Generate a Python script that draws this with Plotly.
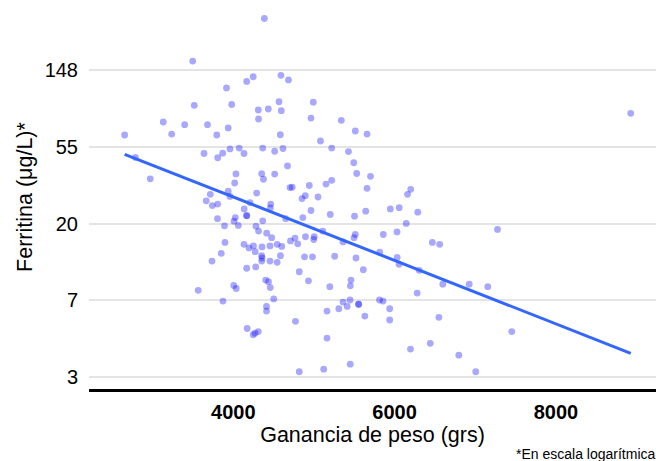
import numpy as np
import plotly.graph_objects as go

# Weight gain (grams) and ferritin (ug/L)
gain = [
    4385, 3497, 4166, 4247, 4591, 4684, 3916, 3516, 3980, 4310,
    4313, 4434, 4567, 4595, 4992, 4963, 5339, 5513, 5658, 3132,
    3397, 3680, 3937, 3236, 3795, 2653, 4583, 5081, 5220, 4365,
    4513, 4616, 5428, 3959, 4073, 3637, 3807, 3869, 4133, 2787,
    2970, 5494, 4672, 5530, 5701, 4033, 4017, 4352, 4374, 4513,
    3937, 3959, 3715, 3664, 3740, 3807, 4290, 4207, 4703, 4730,
    4942, 5149, 5220, 5658, 6200, 6160, 4893, 4852, 5050, 4464,
    4460, 4135, 4164, 4168, 4025, 4009, 4062, 3804, 3891, 4365,
    4650, 4862, 4963, 5202, 5503, 5642, 5947, 6057, 6287, 6144,
    7276, 4281, 4313, 4414, 4476, 5109, 4895, 5003, 4998, 4765,
    4709, 4799, 5513, 5497, 5360, 5860, 6030, 6468, 6559, 3897,
    4133, 4195, 4250, 4272, 4356, 4352, 4356, 4352, 4455, 4455,
    4544, 4601, 4544, 4585, 4883, 4982, 5257, 5521, 5815, 6032,
    6055, 3851, 3736, 4166, 4278, 4818, 5612, 6305, 3565, 4006,
    4036, 3872, 4402, 4437, 4458, 4502, 4412, 4412, 4932, 5197,
    5459, 5451, 5162, 5308, 5360, 5412, 5447, 5552, 5555, 5813,
    5856, 5939, 5631, 5939, 6280, 6598, 6925, 7155, 6549, 4771,
    4310, 4269, 4172, 4247, 5162, 6197, 6442, 6796, 7453, 5450,
    5121, 4818, 7006, 8928,
]
ferritin = [
    292, 167.5, 128.5, 136.5, 139, 131, 118, 94, 95, 88.4,
    78.6, 89.6, 98.5, 87.6, 98, 79.6, 77.3, 67.2, 64.6, 75.6,
    73, 73, 70, 64.6, 63.8, 63.8, 64, 59, 53.8, 53.8,
    51.6, 53.5, 51.4, 53.2, 53.8, 50.1, 47.4, 50.3, 50.1, 47.6,
    36, 44.4, 42.6, 38.6, 37.2, 38.4, 34.1, 38.5, 35.8, 38.3,
    30.6, 28.6, 29.4, 27, 25.4, 25.9, 29.9, 26.4, 32.1, 32.3,
    33, 33.6, 35.3, 31.8, 31.4, 29.4, 28.9, 27.8, 28.4, 25.9,
    24.6, 24.3, 22.3, 22.2, 21.7, 20.7, 19.6, 21.4, 19.5, 20.8,
    21.4, 21.7, 23.8, 22.6, 22.1, 23.6, 24.3, 24.7, 23.3, 20.1,
    18.6, 19.4, 18.2, 17.7, 16.7, 18.2, 16.9, 16.9, 16.3, 16.6,
    16, 15.4, 17.4, 16.7, 15.8, 17.4, 18, 15.7, 15.3, 15.7,
    15.3, 14.6, 15, 13.9, 14.8, 13.2, 12.8, 12.3, 15, 12.3,
    15.3, 14.9, 12.1, 13.2, 13, 13, 13.1, 12.8, 13.8, 12.9,
    11.8, 13.6, 12.3, 11.2, 11.4, 10.7, 11, 10.9, 8.4, 8.95,
    8.6, 7.3, 9.6, 9.4, 8.7, 7.5, 6.8, 6.4, 9.5, 8.8,
    9.6, 8.9, 6.4, 6.6, 7.2, 6.8, 7.4, 7.0, 7.0, 7.4,
    7.3, 6.6, 6.0, 5.7, 8.1, 9.1, 9.1, 8.8, 5.9, 5.6,
    4.9, 4.8, 5.1, 4.7, 4.5, 3.9, 4.2, 3.6, 4.9, 3.2,
    3.0, 2.9, 2.9, 84.7,
]

# Fitted trend line (log scale)
trend_gain = [2653, 8928]
trend_ferritin = [49.6, 3.69]

x_tickvals = [4000, 6000, 8000]
x_ticktext = ["<b>4000</b>", "<b>6000</b>", "<b>8000</b>"]
y_tickvals = [float(np.e ** k) for k in [1, 2, 3, 4, 5]]
y_ticktext = ["3", "7", "20", "55", "148"]

FONT = "Liberation Sans, Arial, sans-serif"

fig = go.Figure()
fig.add_trace(go.Scatter(
    x=gain, y=ferritin, mode="markers",
    marker=dict(size=6.8, color="rgba(0,0,255,0.34)", line=dict(width=0)),
    hoverinfo="skip",
))
fig.add_trace(go.Scatter(
    x=trend_gain, y=trend_ferritin, mode="lines",
    line=dict(color="#3366FF", width=3),
    hoverinfo="skip",
))

fig.update_layout(
    width=656, height=461,
    margin=dict(l=89, r=0, t=5, b=72),
    paper_bgcolor="white", plot_bgcolor="white",
    showlegend=False,
    font=dict(family=FONT, size=20, color="black"),
    xaxis=dict(
        range=[2211, 9241],
        tickvals=x_tickvals, ticktext=x_ticktext,
        tickfont=dict(size=20, color="black"),
        showgrid=False, zeroline=False,
        showline=True, linecolor="black", linewidth=3,
        ticks="outside", ticklen=3, tickcolor="rgba(0,0,0,0)",
        title=dict(text="Ganancia de peso (grs)", font=dict(size=21.5, color="black"), standoff=0),
    ),
    yaxis=dict(
        type="log",
        range=[0.3645, 2.542],
        tickvals=y_tickvals, ticktext=y_ticktext,
        tickfont=dict(size=20, color="black"),
        showgrid=True, gridcolor="#e4e4e4", gridwidth=2,
        zeroline=False, showline=False,
        ticks="outside", ticklen=6, tickcolor="rgba(0,0,0,0)",
        title=dict(text="Ferritina (μg/L)*", font=dict(size=21.5, color="black"), standoff=6),
    ),
    annotations=[dict(
        text="*En escala logarítmica", xref="paper", yref="paper",
        x=1.0, y=-0.169, xanchor="right", yanchor="middle",
        showarrow=False, xshift=2, font=dict(size=14, color="black"),
    )],
)

fig.write_html("out.html")
